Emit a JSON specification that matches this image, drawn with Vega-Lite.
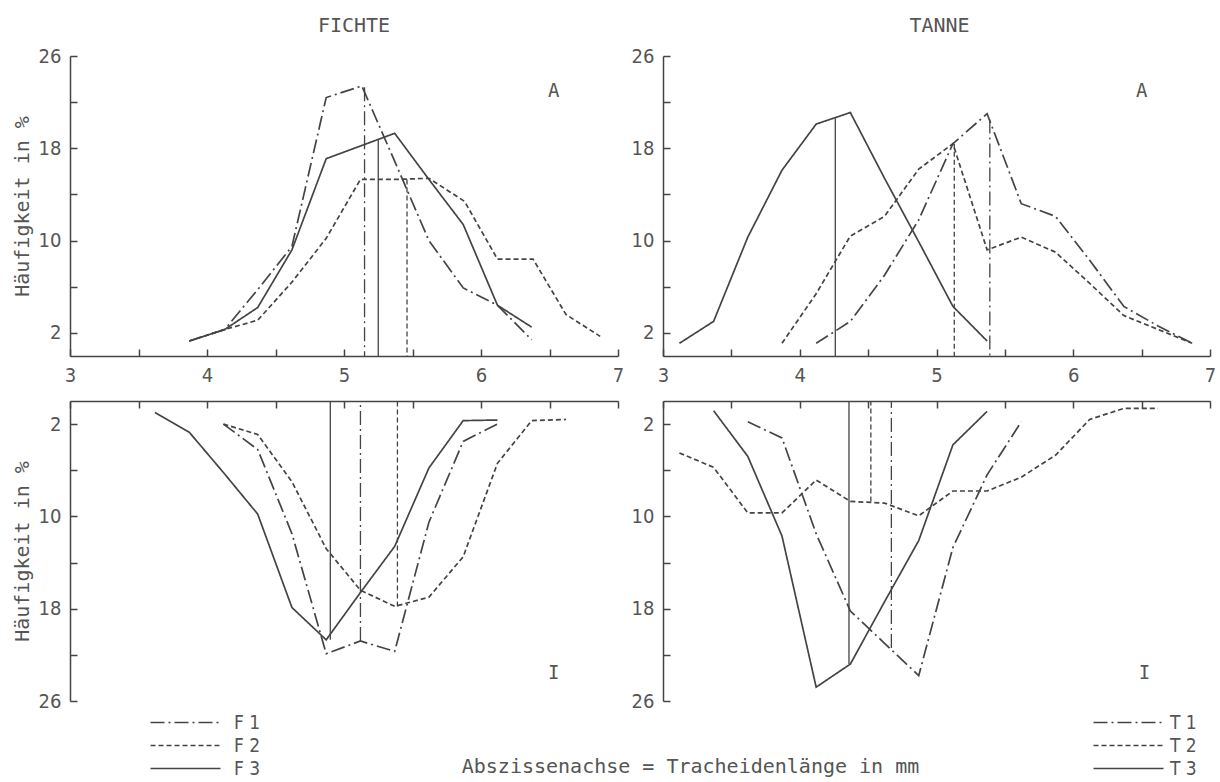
{
  "$schema": "https://vega.github.io/schema/vega-lite/v6.json",
  "background": "white",
  "padding": {"left": 12, "top": 16, "right": 0, "bottom": 0},
  "config": {
    "view": {"stroke": null},
    "font": "DejaVu Sans Condensed, Liberation Sans Narrow, DejaVu Sans",
    "axis": {
      "grid": false,
      "domainColor": "#444",
      "tickColor": "#444",
      "domainWidth": 1.5,
      "tickWidth": 1.5,
      "labelColor": "#555",
      "labelFont": "DejaVu Sans Condensed, Liberation Sans Narrow, DejaVu Sans",
      "labelFontSize": 20,
      "titleColor": "#555",
      "titleFont": "DejaVu Sans Mono",
      "titleFontSize": 20,
      "titleFontWeight": "normal"
    },
    "title": {"font": "DejaVu Sans Mono", "fontSize": 20, "fontWeight": "normal", "color": "#555", "frame": "group", "anchor": "middle"}
  },
  "datasets": {
    "curves": [
      {"p":"FA","s":"F 1","x":3.87,"y":1.3},{"p":"FA","s":"F 1","x":4.13,"y":2.3},{"p":"FA","s":"F 1","x":4.38,"y":5.9},{"p":"FA","s":"F 1","x":4.62,"y":9.5},{"p":"FA","s":"F 1","x":4.87,"y":22.4},{"p":"FA","s":"F 1","x":5.13,"y":23.4},{"p":"FA","s":"F 1","x":5.38,"y":16.6},{"p":"FA","s":"F 1","x":5.62,"y":10.0},{"p":"FA","s":"F 1","x":5.87,"y":5.9},{"p":"FA","s":"F 1","x":6.12,"y":4.4},{"p":"FA","s":"F 1","x":6.37,"y":1.4},
      {"p":"FA","s":"F 2","x":3.87,"y":1.3},{"p":"FA","s":"F 2","x":4.13,"y":2.3},{"p":"FA","s":"F 2","x":4.37,"y":3.1},{"p":"FA","s":"F 2","x":4.62,"y":6.4},{"p":"FA","s":"F 2","x":4.87,"y":10.2},{"p":"FA","s":"F 2","x":5.12,"y":15.3},{"p":"FA","s":"F 2","x":5.37,"y":15.3},{"p":"FA","s":"F 2","x":5.62,"y":15.4},{"p":"FA","s":"F 2","x":5.88,"y":13.4},{"p":"FA","s":"F 2","x":6.12,"y":8.4},{"p":"FA","s":"F 2","x":6.38,"y":8.4},{"p":"FA","s":"F 2","x":6.62,"y":3.6},{"p":"FA","s":"F 2","x":6.87,"y":1.7},
      {"p":"FA","s":"F 3","x":3.87,"y":1.3},{"p":"FA","s":"F 3","x":4.13,"y":2.3},{"p":"FA","s":"F 3","x":4.37,"y":4.2},{"p":"FA","s":"F 3","x":4.62,"y":9.2},{"p":"FA","s":"F 3","x":4.87,"y":17.1},{"p":"FA","s":"F 3","x":5.12,"y":18.2},{"p":"FA","s":"F 3","x":5.37,"y":19.3},{"p":"FA","s":"F 3","x":5.62,"y":15.3},{"p":"FA","s":"F 3","x":5.87,"y":11.4},{"p":"FA","s":"F 3","x":6.12,"y":4.4},{"p":"FA","s":"F 3","x":6.37,"y":2.5},
      {"p":"TA","s":"T 1","x":4.12,"y":1.1},{"p":"TA","s":"T 1","x":4.37,"y":3.0},{"p":"TA","s":"T 1","x":4.62,"y":7.0},{"p":"TA","s":"T 1","x":4.87,"y":11.8},{"p":"TA","s":"T 1","x":5.12,"y":18.4},{"p":"TA","s":"T 1","x":5.37,"y":21.0},{"p":"TA","s":"T 1","x":5.62,"y":13.2},{"p":"TA","s":"T 1","x":5.87,"y":12.1},{"p":"TA","s":"T 1","x":6.12,"y":8.3},{"p":"TA","s":"T 1","x":6.37,"y":4.3},{"p":"TA","s":"T 1","x":6.62,"y":2.6},{"p":"TA","s":"T 1","x":6.87,"y":1.1},
      {"p":"TA","s":"T 2","x":3.87,"y":1.1},{"p":"TA","s":"T 2","x":4.12,"y":5.4},{"p":"TA","s":"T 2","x":4.37,"y":10.4},{"p":"TA","s":"T 2","x":4.62,"y":12.1},{"p":"TA","s":"T 2","x":4.87,"y":16.2},{"p":"TA","s":"T 2","x":5.12,"y":18.4},{"p":"TA","s":"T 2","x":5.37,"y":9.2},{"p":"TA","s":"T 2","x":5.62,"y":10.3},{"p":"TA","s":"T 2","x":5.87,"y":9.0},{"p":"TA","s":"T 2","x":6.12,"y":6.3},{"p":"TA","s":"T 2","x":6.37,"y":3.5},{"p":"TA","s":"T 2","x":6.62,"y":2.3},{"p":"TA","s":"T 2","x":6.87,"y":1.1},
      {"p":"TA","s":"T 3","x":3.12,"y":1.1},{"p":"TA","s":"T 3","x":3.37,"y":3.0},{"p":"TA","s":"T 3","x":3.62,"y":10.3},{"p":"TA","s":"T 3","x":3.87,"y":16.1},{"p":"TA","s":"T 3","x":4.12,"y":20.1},{"p":"TA","s":"T 3","x":4.37,"y":21.1},{"p":"TA","s":"T 3","x":4.62,"y":15.4},{"p":"TA","s":"T 3","x":4.87,"y":9.9},{"p":"TA","s":"T 3","x":5.12,"y":4.3},{"p":"TA","s":"T 3","x":5.37,"y":1.3},
      {"p":"FI","s":"F 1","x":4.12,"y":2.0},{"p":"FI","s":"F 1","x":4.37,"y":4.2},{"p":"FI","s":"F 1","x":4.62,"y":11.5},{"p":"FI","s":"F 1","x":4.87,"y":21.9},{"p":"FI","s":"F 1","x":5.12,"y":20.8},{"p":"FI","s":"F 1","x":5.37,"y":21.7},{"p":"FI","s":"F 1","x":5.62,"y":10.5},{"p":"FI","s":"F 1","x":5.87,"y":3.5},{"p":"FI","s":"F 1","x":6.12,"y":2.0},
      {"p":"FI","s":"F 2","x":4.12,"y":2.0},{"p":"FI","s":"F 2","x":4.37,"y":2.9},{"p":"FI","s":"F 2","x":4.62,"y":7.0},{"p":"FI","s":"F 2","x":4.87,"y":12.8},{"p":"FI","s":"F 2","x":5.12,"y":16.4},{"p":"FI","s":"F 2","x":5.37,"y":17.8},{"p":"FI","s":"F 2","x":5.62,"y":17.0},{"p":"FI","s":"F 2","x":5.87,"y":13.5},{"p":"FI","s":"F 2","x":6.12,"y":5.4},{"p":"FI","s":"F 2","x":6.37,"y":1.7},{"p":"FI","s":"F 2","x":6.62,"y":1.6},
      {"p":"FI","s":"F 3","x":3.62,"y":1.0},{"p":"FI","s":"F 3","x":3.87,"y":2.7},{"p":"FI","s":"F 3","x":4.12,"y":6.2},{"p":"FI","s":"F 3","x":4.37,"y":9.8},{"p":"FI","s":"F 3","x":4.62,"y":17.9},{"p":"FI","s":"F 3","x":4.87,"y":20.7},{"p":"FI","s":"F 3","x":5.12,"y":16.6},{"p":"FI","s":"F 3","x":5.37,"y":12.6},{"p":"FI","s":"F 3","x":5.62,"y":5.8},{"p":"FI","s":"F 3","x":5.87,"y":1.7},{"p":"FI","s":"F 3","x":6.12,"y":1.65},
      {"p":"TI","s":"T 1","x":3.62,"y":1.8},{"p":"TI","s":"T 1","x":3.87,"y":3.2},{"p":"TI","s":"T 1","x":4.12,"y":11.5},{"p":"TI","s":"T 1","x":4.37,"y":18.2},{"p":"TI","s":"T 1","x":4.62,"y":21.0},{"p":"TI","s":"T 1","x":4.87,"y":23.8},{"p":"TI","s":"T 1","x":5.12,"y":12.7},{"p":"TI","s":"T 1","x":5.37,"y":6.4},{"p":"TI","s":"T 1","x":5.62,"y":1.8},
      {"p":"TI","s":"T 2","x":3.12,"y":4.5},{"p":"TI","s":"T 2","x":3.37,"y":5.75},{"p":"TI","s":"T 2","x":3.62,"y":9.7},{"p":"TI","s":"T 2","x":3.87,"y":9.7},{"p":"TI","s":"T 2","x":4.12,"y":6.85},{"p":"TI","s":"T 2","x":4.37,"y":8.7},{"p":"TI","s":"T 2","x":4.62,"y":8.85},{"p":"TI","s":"T 2","x":4.87,"y":9.95},{"p":"TI","s":"T 2","x":5.12,"y":7.8},{"p":"TI","s":"T 2","x":5.37,"y":7.8},{"p":"TI","s":"T 2","x":5.62,"y":6.6},{"p":"TI","s":"T 2","x":5.87,"y":4.7},{"p":"TI","s":"T 2","x":6.12,"y":1.6},{"p":"TI","s":"T 2","x":6.37,"y":0.64},{"p":"TI","s":"T 2","x":6.62,"y":0.64},
      {"p":"TI","s":"T 3","x":3.37,"y":0.84},{"p":"TI","s":"T 3","x":3.62,"y":4.8},{"p":"TI","s":"T 3","x":3.87,"y":11.7},{"p":"TI","s":"T 3","x":4.12,"y":24.8},{"p":"TI","s":"T 3","x":4.37,"y":22.8},{"p":"TI","s":"T 3","x":4.62,"y":17.4},{"p":"TI","s":"T 3","x":4.87,"y":12.1},{"p":"TI","s":"T 3","x":5.12,"y":3.8},{"p":"TI","s":"T 3","x":5.37,"y":0.9}
    ],
    "means": [
      {"p":"FA","s":"F 1","x":5.15,"y":23.3},{"p":"FA","s":"F 2","x":5.46,"y":15.3},{"p":"FA","s":"F 3","x":5.25,"y":18.8},
      {"p":"TA","s":"T 1","x":5.39,"y":20.5},{"p":"TA","s":"T 2","x":5.13,"y":18.4},{"p":"TA","s":"T 3","x":4.26,"y":20.6},
      {"p":"FI","s":"F 1","x":5.12,"y":20.8},{"p":"FI","s":"F 2","x":5.39,"y":17.8},{"p":"FI","s":"F 3","x":4.9,"y":20.7},
      {"p":"TI","s":"T 1","x":4.67,"y":21.4},{"p":"TI","s":"T 2","x":4.52,"y":8.7},{"p":"TI","s":"T 3","x":4.36,"y":22.8}
    ],
    "tags": [
      {"p":"FA","x":6.53,"y":23.0,"t":"A"},
      {"p":"TA","x":6.5,"y":23.0,"t":"A"},
      {"p":"FI","x":6.53,"y":23.6,"t":"I"},
      {"p":"TI","x":6.52,"y":23.6,"t":"I"}
    ]
  },
  "columns": 2,
  "spacing": {"row": 45, "column": 45},
  "bounds": "flush",
  "resolve": {
    "scale": {"x": "independent", "y": "independent", "strokeDash": "independent"},
    "axis": {"x": "independent", "y": "independent"},
    "legend": {"strokeDash": "independent"}
  },
  "concat": [
    {
      "width": 548, "height": 300,
      "title": {"text": "FICHTE", "offset": 10, "dx": 10},
      "layer": [
        {
          "data": {"name": "curves"},
          "transform": [{"filter": "datum.p == 'FA'"}],
          "mark": {"type": "line", "color": "#444", "strokeWidth": 1.7},
          "encoding": {
            "x": {"field": "x", "type": "quantitative", "scale": {"domain": [3, 7], "nice": false, "zero": false},
                  "axis": {"title": null, "tickSize": -7, "values": [3,3.5,4,4.5,5,5.5,6,6.5,7], "labelExpr": "datum.value % 1 == 0 ? '' + datum.value : ''", "labelFlush": false, "labelPadding": 16}},
            "y": {"field": "y", "type": "quantitative", "scale": {"domain": [0, 26], "nice": false},
                  "axis": {"title": "Häufigkeit in %", "tickSize": -7, "values": [2,6,10,14,18,22,26], "labelExpr": "(datum.value - 2) % 8 == 0 ? datum.label : ''", "labelPadding": 16, "titlePadding": 6}},
            "strokeDash": {"field": "s", "type": "nominal", "scale": {"domain": ["F 1","F 2","F 3"], "range": [[14,4,2,4],[5,3],[1,0]]}, "legend": null}
          }
        },
        {
          "data": {"name": "means"},
          "transform": [{"filter": "datum.p == 'FA'"}],
          "mark": {"type": "rule", "color": "#444", "strokeWidth": 1.3},
          "encoding": {
            "x": {"field": "x", "type": "quantitative"},
            "y": {"field": "y", "type": "quantitative"},
            "y2": {"datum": 0},
            "strokeDash": {"field": "s", "type": "nominal", "legend": null}
          }
        },
        {
          "data": {"name": "tags"},
          "transform": [{"filter": "datum.p == 'FA'"}],
          "mark": {"type": "text", "font": "DejaVu Sans Mono", "fontSize": 19, "color": "#555"},
          "encoding": {
            "x": {"field": "x", "type": "quantitative"},
            "y": {"field": "y", "type": "quantitative"},
            "text": {"field": "t", "type": "nominal"}
          }
        }
      ]
    },
    {
      "width": 547, "height": 300,
      "title": {"text": "TANNE", "offset": 10, "dx": 3},
      "layer": [
        {
          "data": {"name": "curves"},
          "transform": [{"filter": "datum.p == 'TA'"}],
          "mark": {"type": "line", "color": "#444", "strokeWidth": 1.7},
          "encoding": {
            "x": {"field": "x", "type": "quantitative", "scale": {"domain": [3, 7], "nice": false, "zero": false},
                  "axis": {"title": null, "tickSize": -7, "values": [3,3.5,4,4.5,5,5.5,6,6.5,7], "labelExpr": "datum.value % 1 == 0 ? '' + datum.value : ''", "labelFlush": false, "labelPadding": 16}},
            "y": {"field": "y", "type": "quantitative", "scale": {"domain": [0, 26], "nice": false},
                  "axis": {"title": null, "tickSize": -7, "values": [2,6,10,14,18,22,26], "labelExpr": "(datum.value - 2) % 8 == 0 ? datum.label : ''", "labelPadding": 16}},
            "strokeDash": {"field": "s", "type": "nominal", "scale": {"domain": ["T 1","T 2","T 3"], "range": [[14,4,2,4],[5,3],[1,0]]}, "legend": null}
          }
        },
        {
          "data": {"name": "means"},
          "transform": [{"filter": "datum.p == 'TA'"}],
          "mark": {"type": "rule", "color": "#444", "strokeWidth": 1.3},
          "encoding": {
            "x": {"field": "x", "type": "quantitative"},
            "y": {"field": "y", "type": "quantitative"},
            "y2": {"datum": 0},
            "strokeDash": {"field": "s", "type": "nominal", "legend": null}
          }
        },
        {
          "data": {"name": "tags"},
          "transform": [{"filter": "datum.p == 'TA'"}],
          "mark": {"type": "text", "font": "DejaVu Sans Mono", "fontSize": 19, "color": "#555"},
          "encoding": {
            "x": {"field": "x", "type": "quantitative"},
            "y": {"field": "y", "type": "quantitative"},
            "text": {"field": "t", "type": "nominal"}
          }
        }
      ]
    },
    {
      "width": 548, "height": 300,
      "layer": [
        {
          "data": {"name": "curves"},
          "transform": [{"filter": "datum.p == 'FI'"}],
          "mark": {"type": "line", "color": "#444", "strokeWidth": 1.7},
          "encoding": {
            "x": {"field": "x", "type": "quantitative", "scale": {"domain": [3, 7], "nice": false, "zero": false},
                  "axis": {"orient": "top", "tickSize": -7, "values": [3,3.5,4,4.5,5,5.5,6,6.5,7], "labels": false,
                           "title": "Abszissenachse = Tracheidenlänge in mm", "titleX": 620, "titleY": 365, "titleAlign": "center", "titleBaseline": "middle", "titleAngle": 0, "titleFontSize": 20}},
            "y": {"field": "y", "type": "quantitative", "scale": {"domain": [0, 26], "nice": false, "reverse": true},
                  "axis": {"title": "Häufigkeit in %", "tickSize": -7, "values": [2,6,10,14,18,22,26], "labelExpr": "(datum.value - 2) % 8 == 0 ? datum.label : ''", "labelPadding": 16, "titlePadding": 6}},
            "strokeDash": {"field": "s", "type": "nominal", "scale": {"domain": ["F 1","F 2","F 3"], "range": [[14,4,2,4],[5,3],[1,0]]},
                           "legend": {"orient": "none", "legendX": 106, "legendY": 312, "title": null, "symbolType": "M-5,0H5", "symbolSize": 196, "symbolStrokeWidth": 1.6, "symbolStrokeColor": "#444", "labelFont": "DejaVu Sans Condensed, Liberation Sans Narrow, DejaVu Sans", "labelFontSize": 19, "labelColor": "#555", "labelOffset": 39, "rowPadding": 3, "padding": 0}}
          }
        },
        {
          "data": {"name": "means"},
          "transform": [{"filter": "datum.p == 'FI'"}],
          "mark": {"type": "rule", "color": "#444", "strokeWidth": 1.3},
          "encoding": {
            "x": {"field": "x", "type": "quantitative"},
            "y": {"field": "y", "type": "quantitative"},
            "y2": {"datum": 0},
            "strokeDash": {"field": "s", "type": "nominal", "legend": null}
          }
        },
        {
          "data": {"name": "tags"},
          "transform": [{"filter": "datum.p == 'FI'"}],
          "mark": {"type": "text", "font": "DejaVu Sans Mono", "fontSize": 19, "color": "#555"},
          "encoding": {
            "x": {"field": "x", "type": "quantitative"},
            "y": {"field": "y", "type": "quantitative"},
            "text": {"field": "t", "type": "nominal"}
          }
        }
      ]
    },
    {
      "width": 547, "height": 300,
      "layer": [
        {
          "data": {"name": "curves"},
          "transform": [{"filter": "datum.p == 'TI'"}],
          "mark": {"type": "line", "color": "#444", "strokeWidth": 1.7},
          "encoding": {
            "x": {"field": "x", "type": "quantitative", "scale": {"domain": [3, 7], "nice": false, "zero": false},
                  "axis": {"orient": "top", "tickSize": -7, "values": [3,3.5,4,4.5,5,5.5,6,6.5,7], "labels": false, "title": null}},
            "y": {"field": "y", "type": "quantitative", "scale": {"domain": [0, 26], "nice": false, "reverse": true},
                  "axis": {"title": null, "tickSize": -7, "values": [2,6,10,14,18,22,26], "labelExpr": "(datum.value - 2) % 8 == 0 ? datum.label : ''", "labelPadding": 16}},
            "strokeDash": {"field": "s", "type": "nominal", "scale": {"domain": ["T 1","T 2","T 3"], "range": [[14,4,2,4],[5,3],[1,0]]},
                           "legend": {"orient": "none", "legendX": 456, "legendY": 312, "title": null, "symbolType": "M-5,0H5", "symbolSize": 196, "symbolStrokeWidth": 1.6, "symbolStrokeColor": "#444", "labelFont": "DejaVu Sans Condensed, Liberation Sans Narrow, DejaVu Sans", "labelFontSize": 19, "labelColor": "#555", "labelOffset": 32, "rowPadding": 3, "padding": 0}}
          }
        },
        {
          "data": {"name": "means"},
          "transform": [{"filter": "datum.p == 'TI'"}],
          "mark": {"type": "rule", "color": "#444", "strokeWidth": 1.3},
          "encoding": {
            "x": {"field": "x", "type": "quantitative"},
            "y": {"field": "y", "type": "quantitative"},
            "y2": {"datum": 0},
            "strokeDash": {"field": "s", "type": "nominal", "legend": null}
          }
        },
        {
          "data": {"name": "tags"},
          "transform": [{"filter": "datum.p == 'TI'"}],
          "mark": {"type": "text", "font": "DejaVu Sans Mono", "fontSize": 19, "color": "#555"},
          "encoding": {
            "x": {"field": "x", "type": "quantitative"},
            "y": {"field": "y", "type": "quantitative"},
            "text": {"field": "t", "type": "nominal"}
          }
        }
      ]
    }
  ]
}
